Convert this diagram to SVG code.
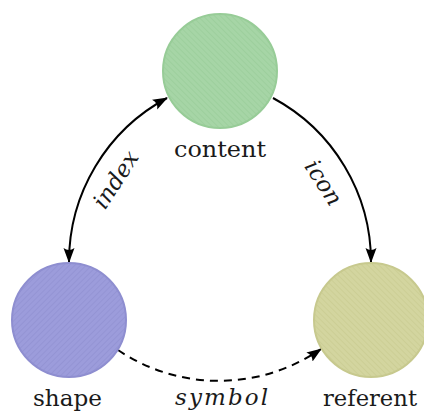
<svg xmlns="http://www.w3.org/2000/svg" width="424" height="412" viewBox="0 0 424 412">
  <style>
    text { font-family: 'DejaVu Serif', serif; fill: #1a1a1a; text-anchor: middle; }
    .lbl { font-size: 23px; }
    .elbl { font-style: italic; font-size: 23px; }
    .edge { fill: none; stroke: #000; stroke-width: 2; }
    .dash { stroke-dasharray: 8 6; }
  </style>
  <defs>
    <pattern id="hGreen" patternUnits="userSpaceOnUse" width="4" height="4" patternTransform="rotate(-45)">
      <rect width="4" height="4" fill="#a6d5a6"/>
      <line x1="0" y1="0" x2="0" y2="4" stroke="#97cc97" stroke-width="1.2"/>
    </pattern>
    <pattern id="hBlue" patternUnits="userSpaceOnUse" width="4" height="4" patternTransform="rotate(45)">
      <rect width="4" height="4" fill="#9c9cdb"/>
      <line x1="0" y1="0" x2="0" y2="4" stroke="#8e8ed0" stroke-width="1.2"/>
    </pattern>
    <pattern id="hYellow" patternUnits="userSpaceOnUse" width="4" height="4" patternTransform="rotate(-45)">
      <rect width="4" height="4" fill="#d3d59f"/>
      <line x1="0" y1="0" x2="0" y2="4" stroke="#c7c98e" stroke-width="1.2"/>
    </pattern>
    <marker id="arr" markerUnits="userSpaceOnUse" markerWidth="16" markerHeight="13" refX="14" refY="5.5" orient="auto-start-reverse" viewBox="0 0 16 11">
      <path d="M0,0 Q4,5.5 0,11 L15,5.5 Z" fill="#000"/>
    </marker>
  </defs>

  <g id="connectors">
    <path id="e-index" class="edge" d="M69,262 A186 186 0 0 1 167,98" marker-start="url(#arr)" marker-end="url(#arr)"/>
    <path id="e-icon" class="edge" d="M273,98 A186 186 0 0 1 371,262" marker-end="url(#arr)"/>
    <path id="e-symbol" class="edge dash" d="M118,350 A180 180 0 0 0 321,349" marker-end="url(#arr)"/>
    <text class="elbl" transform="translate(116.5,180) rotate(-57)" y="7">index</text>
    <text class="elbl" transform="translate(323,183) rotate(57)" y="7">icon</text>
    <text class="elbl" x="221.5" y="405" textLength="93" lengthAdjust="spacing">symbol</text>
  </g>

  <g id="content">
    <circle cx="220" cy="71" r="57" fill="url(#hGreen)" stroke="#97cc97" stroke-width="2"/>
    <text class="lbl" x="220" y="157" textLength="92" lengthAdjust="spacingAndGlyphs">content</text>
  </g>
  <g id="shape">
    <circle cx="69" cy="320" r="57" fill="url(#hBlue)" stroke="#8e8ed0" stroke-width="2"/>
    <text class="lbl" x="67.5" y="406" textLength="69" lengthAdjust="spacingAndGlyphs">shape</text>
  </g>
  <g id="referent">
    <circle cx="371" cy="320" r="57" fill="url(#hYellow)" stroke="#c7c98e" stroke-width="2"/>
    <text class="lbl" x="370" y="406" textLength="94" lengthAdjust="spacingAndGlyphs">referent</text>
  </g>
</svg>
